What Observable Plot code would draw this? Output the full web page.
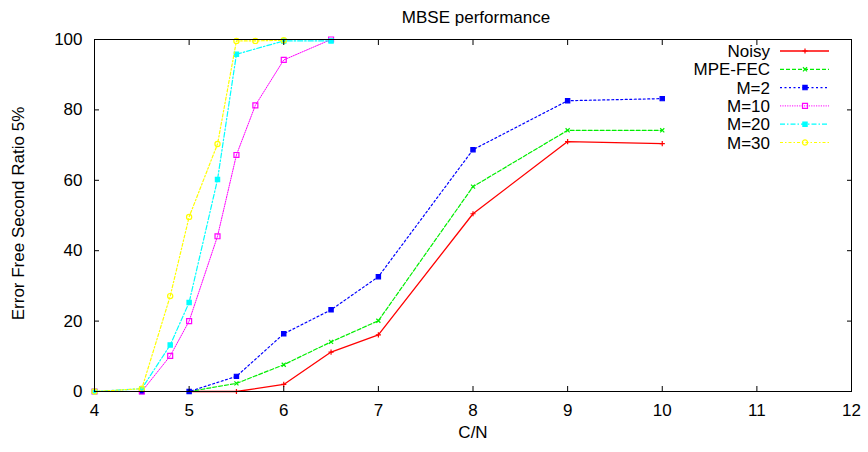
<!DOCTYPE html>
<html>
<head>
<meta charset="utf-8">
<script src="https://cdn.jsdelivr.net/npm/d3@7"></script>
<script src="https://cdn.jsdelivr.net/npm/@observablehq/plot@0.6"></script>
<style>
  html, body { margin: 0; padding: 0; background: #fff; }
  #chart svg { display: block; }
</style>
</head>
<body>
<div id="chart"></div>
<script>
// ---- data ----
const seriesNames = ["Noisy", "MPE-FEC", "M=2", "M=10", "M=20", "M=30"];

const noisyCN  = [5, 5.5, 6, 6.5, 7, 8, 9, 10];
const noisyEFS = [0, 0, 2.0, 11.2, 16.1, 50.5, 71.0, 70.4];

const mpeCN  = [5, 5.5, 6, 6.5, 7, 8, 9, 10];
const mpeEFS = [0, 2.3, 7.6, 14.1, 20.1, 58.2, 74.2, 74.2];

const m2CN  = [4.5, 5, 5.5, 6, 6.5, 7, 8, 9, 10];
const m2EFS = [0, 0, 4.3, 16.4, 23.2, 32.6, 68.7, 82.6, 83.2];

const m10CN  = [4, 4.5, 4.8, 5, 5.3, 5.5, 5.7, 6, 6.5];
const m10EFS = [0, 0, 10.1, 20.0, 44.1, 67.2, 81.3, 94.2, 100];

const m20CN  = [4, 4.5, 4.8, 5, 5.3, 5.5, 6, 6.5];
const m20EFS = [0, 0.8, 13.2, 25.3, 60.2, 95.8, 99.6, 99.6];

const m30CN  = [4, 4.5, 4.8, 5, 5.3, 5.5, 5.7, 6];
const m30EFS = [0, 0.8, 27.1, 49.6, 70.3, 99.6, 99.6, 99.8];

const xTicks = [4, 5, 6, 7, 8, 9, 10, 11, 12];
const yTicks = [0, 20, 40, 60, 80, 100];

// ---- styling ----
const seriesStyle = [
  {color: "#ff0000", dash: null,        symbol: "plus",   filled: false, r: 1.8, width: 1.3},
  {color: "#00ee00", dash: "4,2",       symbol: "times",  filled: false, r: 2.0, width: 1.2},
  {color: "#0000ff", dash: "2,2.5",     symbol: "square", filled: true,  r: 2.4, width: 1.2},
  {color: "#ff00ff", dash: "1.2,1.2",   symbol: "square", filled: false, r: 2.8, width: 1.0},
  {color: "#00ffff", dash: "5,2,1.5,2", symbol: "square", filled: true,  r: 2.4, width: 1.2},
  {color: "#ffff00", dash: "3,2,1.5,2", symbol: "circle", filled: false, r: 2.6, width: 1.2}
];

const xs = [noisyCN, mpeCN, m2CN, m10CN, m20CN, m30CN];
const ys = [noisyEFS, mpeEFS, m2EFS, m10EFS, m20EFS, m30EFS];
const tables = seriesNames.map((name, i) => xs[i].map((cn, j) => ({series: name, cn, efs: ys[i][j]})));

const FONT = "'Liberation Sans', Arial, Helvetica, sans-serif";
const FS = 17;

const symbolMap = {plus: d3.symbolPlus, times: d3.symbolTimes, square: d3.symbolSquare, circle: d3.symbolCircle};

function legendMark(index, scales, values, dimensions) {
  const g = d3.create("svg:g").attr("font-family", FONT).attr("font-size", FS);
  const right = dimensions.width - dimensions.marginRight;
  seriesNames.forEach((name, i) => {
    const st = seriesStyle[i];
    const y = dimensions.marginTop + 12 + i * 18.3;
    g.append("text")
      .attr("x", right - 81).attr("y", y)
      .attr("text-anchor", "end").attr("dy", "0.36em")
      .attr("fill", "black")
      .text(name);
    g.append("line")
      .attr("x1", right - 71).attr("x2", right - 22)
      .attr("y1", y).attr("y2", y)
      .attr("stroke", st.color).attr("stroke-width", st.width)
      .attr("stroke-dasharray", st.dash);
    g.append("path")
      .attr("transform", `translate(${right - 46},${y})`)
      .attr("d", d3.symbol(symbolMap[st.symbol], Math.PI * st.r * st.r)())
      .attr("fill", st.filled ? st.color : "none")
      .attr("stroke", st.color).attr("stroke-width", 1.2);
  });
  return g.node();
}

const marks = [];
tables.forEach((t, i) => {
  const st = seriesStyle[i];
  marks.push(Plot.line(t, {x: "cn", y: "efs", stroke: st.color, strokeWidth: st.width, strokeDasharray: st.dash}));
  marks.push(Plot.dot(t, {x: "cn", y: "efs", symbol: st.symbol, r: st.r,
    fill: st.filled ? st.color : "none", stroke: st.color, strokeWidth: 1.2}));
});

const plot = Plot.plot({
  width: 868,
  height: 452,
  marginLeft: 94,
  marginRight: 17,
  marginTop: 39,
  marginBottom: 61,
  style: {fontFamily: FONT, fontSize: FS + "px", background: "white", color: "black"},
  x: {domain: [4, 12]},
  y: {domain: [0, 100]},
  marks: [
    ...marks,
    Plot.frame({stroke: "black", strokeWidth: 1}),
    // tick labels
    Plot.axisX(xTicks, {tickSize: 0, tickPadding: 12, label: null, fontSize: FS}),
    Plot.axisY(yTicks, {tickSize: 0, tickPadding: 12, label: null, fontSize: FS}),
    // inward ticks on all four sides
    Plot.axisX(xTicks, {tickSize: -5, tickFormat: () => "", label: null}),
    Plot.axisX(xTicks, {anchor: "top", tickSize: -5, tickFormat: () => "", label: null}),
    Plot.axisY(yTicks, {tickSize: -5, tickFormat: () => "", label: null}),
    Plot.axisY(yTicks, {anchor: "right", tickSize: -5, tickFormat: () => "", label: null}),
    // titles
    Plot.text(["MBSE performance"], {frameAnchor: "top", dx: 3, dy: -29, fontSize: FS, fill: "black"}),
    Plot.text(["C/N"], {frameAnchor: "bottom", dy: 46, fontSize: FS, fill: "black"}),
    Plot.text(["Error Free Second Ratio 5%"], {frameAnchor: "left", textAnchor: "middle", dx: -76, dy: -2, rotate: -90, fontSize: FS, fill: "black"}),
    legendMark
  ]
});

document.getElementById("chart").appendChild(plot);
</script>
</body>
</html>
